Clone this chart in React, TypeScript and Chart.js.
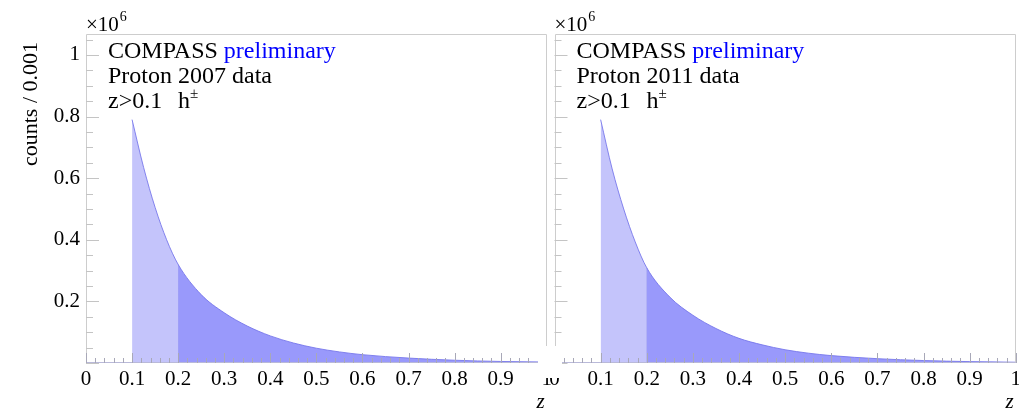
import React, { useEffect, useRef } from 'react';
import { Chart, registerables } from 'chart.js';

Chart.register(...registerables);

// ---- data (counts in units of 10^6 per 0.001 bin) ----
const zValues = [0.1, 0.125, 0.15, 0.175, 0.2, 0.25, 0.3, 0.35, 0.4, 0.45, 0.5, 0.55, 0.6, 0.7, 0.8, 0.9, 1.0];
const counts2007 = [0.79, 0.635, 0.505, 0.4, 0.32, 0.222, 0.163, 0.12, 0.088, 0.065, 0.048, 0.036, 0.027, 0.016, 0.009, 0.005, 0.003];
const counts2011 = [0.79, 0.63, 0.5, 0.393, 0.309, 0.214, 0.155, 0.112, 0.08, 0.059, 0.043, 0.032, 0.024, 0.014, 0.008, 0.0045, 0.0025];
const zCut = 0.2;

const xTickValues = [0, 0.1, 0.2, 0.3, 0.4, 0.5, 0.6, 0.7, 0.8, 0.9, 1];
const xTickLabels = ['0', '0.1', '0.2', '0.3', '0.4', '0.5', '0.6', '0.7', '0.8', '0.9', '1'];
const yTickValues = [0.2, 0.4, 0.6, 0.8, 1];
const yTickLabels = ['0.2', '0.4', '0.6', '0.8', '1'];
const yMax = 1.068;

const LIGHT = '#c4c4fb';
const DARK = '#9999fb';
const SERIF = '"Liberation Serif", "DejaVu Serif", serif';

type PanelProps = {
  left: number;
  width: number;
  yAxisWidth: number;
  padRight: number;
  counts: number[];
  dataLabel: string;
  showYLabels: boolean;
};

function makeOverlay(p: PanelProps) {
  return {
    id: 'rootStyle',
    afterDatasetsDraw(chart: any) {
      const ctx = chart.ctx as CanvasRenderingContext2D;
      const a = chart.chartArea;
      const xs = chart.scales.x;
      const ys = chart.scales.y;
      ctx.save();
      // frame
      ctx.strokeStyle = '#cdcdcd';
      ctx.lineWidth = 1;
      ctx.beginPath();
      ctx.moveTo(Math.round(a.left) + 0.5, Math.round(a.bottom));
      ctx.lineTo(Math.round(a.left) + 0.5, Math.round(a.top) + 0.5);
      ctx.lineTo(Math.round(a.right) - 0.5, Math.round(a.top) + 0.5);
      ctx.lineTo(Math.round(a.right) - 0.5, Math.round(a.bottom));
      ctx.stroke();
      // x axis line
      ctx.strokeStyle = '#b9b9d9';
      ctx.beginPath();
      ctx.moveTo(a.left, Math.round(a.bottom) - 0.5);
      ctx.lineTo(a.right, Math.round(a.bottom) - 0.5);
      ctx.stroke();
      // x ticks (inward)
      ctx.strokeStyle = '#a8a8b8';
      for (let i = 0; i <= 50; i++) {
        const v = i * 0.02;
        const px = Math.round(xs.getPixelForValue(v)) + 0.5;
        const len = i % 5 === 0 ? 10 : 5;
        ctx.beginPath();
        ctx.moveTo(px, a.bottom);
        ctx.lineTo(px, a.bottom - len);
        ctx.stroke();
      }
      // y ticks (inward)
      ctx.strokeStyle = '#c4c4c4';
      for (let i = 0; i <= 21; i++) {
        const v = i * 0.05;
        if (v > yMax) break;
        const py = Math.round(ys.getPixelForValue(v)) + 0.5;
        const len = i % 4 === 0 ? 13 : 7;
        ctx.beginPath();
        ctx.moveTo(a.left, py);
        ctx.lineTo(a.left + len, py);
        ctx.stroke();
      }
      ctx.restore();
    },
    afterDraw(chart: any) {
      const ctx = chart.ctx as CanvasRenderingContext2D;
      const a = chart.chartArea;
      ctx.save();
      ctx.fillStyle = '#000';
      ctx.textBaseline = 'alphabetic';
      ctx.textAlign = 'left';
      // x10^6
      ctx.font = `21px ${SERIF}`;
      ctx.fillText('×10', a.left, 31);
      const w10 = ctx.measureText('×10').width;
      ctx.font = `14px ${SERIF}`;
      ctx.fillText('6', a.left + w10 + 1, 21);
      // annotation block
      const tx = a.left + 22;
      ctx.font = `24px ${SERIF}`;
      ctx.fillText('COMPASS ', tx, 58);
      const wc = ctx.measureText('COMPASS ').width;
      ctx.fillStyle = '#0000ff';
      ctx.fillText('preliminary', tx + wc, 58);
      ctx.fillStyle = '#000';
      ctx.fillText(p.dataLabel, tx, 83);
      ctx.fillText('z>0.1', tx, 108);
      ctx.fillText('h', tx + 70, 108);
      const wh = ctx.measureText('h').width;
      ctx.font = `15px ${SERIF}`;
      ctx.fillText('±', tx + 70 + wh, 98);
      // x axis title
      ctx.font = `italic 21px ${SERIF}`;
      ctx.textAlign = 'right';
      ctx.fillText('z', a.right - 2, 408);
      // y axis title
      if (p.showYLabels) {
        ctx.font = `22px ${SERIF}`;
        ctx.translate(37, 42);
        ctx.rotate(-Math.PI / 2);
        ctx.textAlign = 'right';
        ctx.fillText('counts / 0.001', 0, 0);
      }
      ctx.restore();
    },
  };
}

function Panel(p: PanelProps) {
  const ref = useRef<HTMLCanvasElement | null>(null);
  useEffect(() => {
    if (!ref.current) return;
    const pts = zValues.map((z, i) => ({ x: z, y: p.counts[i] }));
    const cutY = p.counts[zValues.indexOf(zCut)];
    const chart = new Chart(ref.current, {
      type: 'line',
      data: {
        datasets: [
          {
            data: pts,
            fill: 'origin',
            backgroundColor: DARK,
            borderColor: 'rgba(120,120,235,0.9)',
            borderWidth: 1,
            pointRadius: 0,
            cubicInterpolationMode: 'monotone',
            segment: {
              backgroundColor: (c: any) => (c.p0.parsed.x < zCut - 1e-9 ? LIGHT : DARK),
            },
          },
          {
            data: [
              { x: zCut, y: 0 },
              { x: zCut, y: cutY },
            ],
            fill: false,
            borderColor: 'rgba(110,110,225,0.9)',
            borderWidth: 1,
            pointRadius: 0,
          },
        ],
      },
      options: {
        animation: false,
        responsive: false,
        events: [],
        layout: { padding: { top: 34, right: p.padRight, left: 0, bottom: 0 } },
        plugins: { legend: { display: false }, tooltip: { enabled: false } },
        scales: {
          x: {
            type: 'linear',
            min: 0,
            max: 1,
            afterFit: (s: any) => {
              s.height = 49;
            },
            afterBuildTicks: (s: any) => {
              s.ticks = xTickValues.map((v) => ({ value: v }));
            },
            ticks: {
              autoSkip: false,
              maxRotation: 0,
              padding: 4,
              color: '#000',
              font: { family: SERIF, size: 21 },
              callback: (v: any) => xTickLabels[xTickValues.indexOf(Number(v))] ?? '',
            },
            grid: { display: false, drawTicks: false },
            border: { display: false },
          },
          y: {
            type: 'linear',
            min: 0,
            max: yMax,
            afterFit: (s: any) => {
              s.width = p.yAxisWidth;
            },
            afterBuildTicks: (s: any) => {
              s.ticks = yTickValues.map((v) => ({ value: v }));
            },
            ticks: {
              display: p.showYLabels,
              padding: 6,
              color: '#000',
              font: { family: SERIF, size: 21 },
              callback: (v: any) => yTickLabels[yTickValues.indexOf(Number(v))] ?? '',
            },
            grid: { display: false, drawTicks: false },
            border: { display: false },
          },
        },
      },
      plugins: [makeOverlay(p)],
    } as any);
    return () => chart.destroy();
  }, []);
  return (
    <canvas
      ref={ref}
      width={p.width}
      height={412}
      style={{ position: 'absolute', left: p.left, top: 0, width: p.width, height: 412 }}
    />
  );
}

export default function App() {
  return (
    <div style={{ position: 'fixed', left: 0, top: 0, width: 1019, height: 412, overflow: 'hidden', background: '#fff' }}>
      <Panel left={0} width={556} yAxisWidth={86} padRight={7} counts={counts2007} dataLabel="Proton 2007 data" showYLabels={true} />
      <Panel left={540} width={485} yAxisWidth={14.5} padRight={9} counts={counts2011} dataLabel="Proton 2011 data" showYLabels={false} />
      <div style={{ position: 'absolute', left: 538, top: 346, width: 24, height: 32, background: '#fff' }} />
    </div>
  );
}
